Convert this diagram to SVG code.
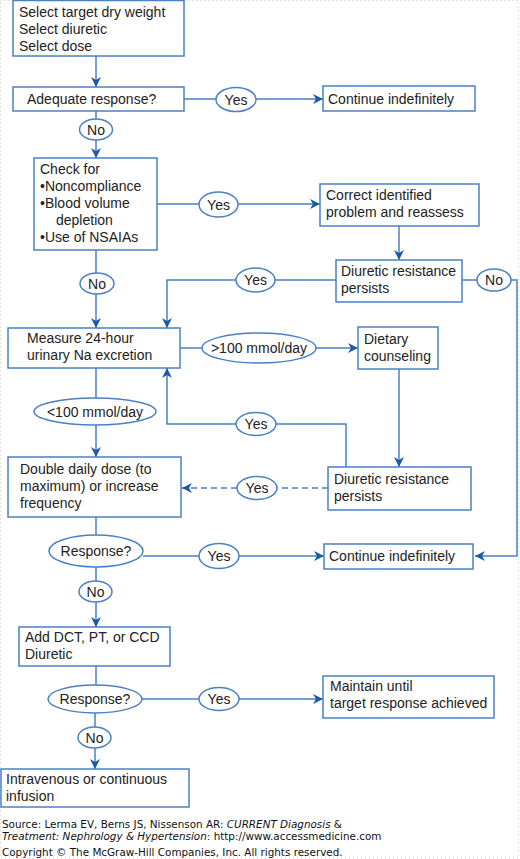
<svg xmlns="http://www.w3.org/2000/svg" width="520" height="859" viewBox="0 0 520 859">
<defs>
<style>
.box{fill:#fff;stroke:#4a80c4;stroke-width:1.5}
.ell{fill:#fff;stroke:#4a80c4;stroke-width:1.5}
.ln{fill:none;stroke:#4a80c4;stroke-width:1.5}
.dash{fill:none;stroke:#4a80c4;stroke-width:1.5;stroke-dasharray:6 4}
.t{font-family:"Liberation Sans",Arial,sans-serif;font-size:14px;fill:#222}
.c{text-anchor:middle}
.f{font-family:"DejaVu Sans",Verdana,sans-serif;font-size:10.4px;fill:#111}
</style>
<marker id="ah" viewBox="0 0 10 10" refX="10" refY="5" markerWidth="10" markerHeight="10" markerUnits="userSpaceOnUse" orient="auto">
<path d="M0,0 L10,5 L0,10 L3,5 Z" fill="#1a5aa8"/>
</marker>
</defs>
<rect x="0.5" y="0.5" width="518" height="857.5" fill="none" stroke="#c4ccb8" stroke-width="1" stroke-dasharray="1 3"/>

<g id="connectors">
<path class="ln" d="M96,56 V87" marker-end="url(#ah)"/>
<path class="ln" d="M184,99 H216 M256,99 H323" marker-end="url(#ah)"/>
<path class="ln" d="M96,111 V119 M96,140 V158" marker-end="url(#ah)"/>
<path class="ln" d="M157,204 H199 M238,204 H320" marker-end="url(#ah)"/>
<path class="ln" d="M399,226 V260" marker-end="url(#ah)"/>
<path class="ln" d="M336,280 H275 M236,280 H167 V328" marker-end="url(#ah)"/>
<path class="ln" d="M462,280 H477 M511,280 H517 V556 H475" marker-end="url(#ah)"/>
<path class="ln" d="M96,250 V273 M96,293 V328" marker-end="url(#ah)"/>
<path class="ln" d="M180,348 H202 M316,348 H358" marker-end="url(#ah)"/>
<path class="ln" d="M399,369 V467" marker-end="url(#ah)"/>
<path class="ln" d="M346,467 V424 H276 M236,424 H167 V368" marker-end="url(#ah)"/>
<path class="dash" d="M328,488 H277 M237,488 H182" marker-end="url(#ah)"/>
<path class="ln" d="M96,368 V398 M96,425 V457" marker-end="url(#ah)"/>
<path class="ln" d="M96,517 V535"/>
<path class="ln" d="M143,556 H199 M239,556 H324" marker-end="url(#ah)"/>
<path class="ln" d="M96,567 V581 M96,602 V627" marker-end="url(#ah)"/>
<path class="ln" d="M96,666 V685"/>
<path class="ln" d="M142,699 H199 M239,699 H323" marker-end="url(#ah)"/>
<path class="ln" d="M95,713 V727 M95,748 V769" marker-end="url(#ah)"/>
</g>

<g id="n1"><rect class="box" x="13" y="0.5" width="171" height="55.5"/>
<text class="t" x="19" y="17">Select target dry weight</text>
<text class="t" x="19" y="34">Select diuretic</text>
<text class="t" x="19" y="51">Select dose</text></g>

<g id="n2"><rect class="box" x="13" y="87" width="171" height="24"/>
<text class="t" x="27" y="104">Adequate response?</text></g>

<g id="e1"><ellipse class="ell" cx="236" cy="99.5" rx="20" ry="12"/><text class="t c" x="236" y="104.5">Yes</text></g>

<g id="n3"><rect class="box" x="323" y="86" width="152" height="25"/>
<text class="t" x="328" y="104">Continue indefinitely</text></g>

<g id="e2"><ellipse class="ell" cx="96" cy="129.5" rx="16.5" ry="10.5"/><text class="t c" x="96" y="134.5">No</text></g>

<g id="n4"><rect class="box" x="34" y="158" width="123" height="92"/>
<text class="t" x="40" y="174">Check for</text>
<text class="t" x="40" y="191">•Noncompliance</text>
<text class="t" x="40" y="208">•Blood volume</text>
<text class="t" x="56" y="225">depletion</text>
<text class="t" x="40" y="242">•Use of NSAIAs</text></g>

<g id="e3"><ellipse class="ell" cx="218.5" cy="204.5" rx="19.5" ry="12.5"/><text class="t c" x="218.5" y="209.5">Yes</text></g>

<g id="n5"><rect class="box" x="320" y="184" width="159" height="42"/>
<text class="t" x="326" y="200">Correct identified</text>
<text class="t" x="326" y="217">problem and reassess</text></g>

<g id="n6"><rect class="box" x="336" y="260" width="126" height="42"/>
<text class="t" x="341" y="276">Diuretic resistance</text>
<text class="t" x="341" y="293">persists</text></g>

<g id="e4"><ellipse class="ell" cx="255.5" cy="280" rx="19.5" ry="12"/><text class="t c" x="255.5" y="285">Yes</text></g>
<g id="e5"><ellipse class="ell" cx="494" cy="280" rx="17" ry="11"/><text class="t c" x="494" y="285">No</text></g>

<g id="e6"><ellipse class="ell" cx="97" cy="283.5" rx="17" ry="10.5"/><text class="t c" x="97" y="288.5">No</text></g>

<g id="n7"><rect class="box" x="8" y="328" width="172" height="40"/>
<text class="t" x="27" y="343">Measure 24-hour</text>
<text class="t" x="27" y="360">urinary Na excretion</text></g>

<g id="e7"><ellipse class="ell" cx="259" cy="348" rx="57" ry="15"/><text class="t c" x="259" y="353">&gt;100 mmol/day</text></g>

<g id="n8"><rect class="box" x="358" y="327" width="80" height="42"/>
<text class="t" x="364" y="344">Dietary</text>
<text class="t" x="364" y="361">counseling</text></g>

<g id="e8"><ellipse class="ell" cx="95" cy="411.5" rx="61" ry="13.5"/><text class="t c" x="95" y="416.5">&lt;100 mmol/day</text></g>

<g id="e9"><ellipse class="ell" cx="256" cy="424" rx="20" ry="11.5"/><text class="t c" x="256" y="429">Yes</text></g>

<g id="n9"><rect class="box" x="328" y="467" width="143" height="43"/>
<text class="t" x="334" y="484">Diuretic resistance</text>
<text class="t" x="334" y="501">persists</text></g>

<g id="e10"><ellipse class="ell" cx="257" cy="488" rx="20" ry="11.5"/><text class="t c" x="257" y="493">Yes</text></g>

<g id="n10"><rect class="box" x="8" y="457" width="173" height="60"/>
<text class="t" x="20" y="474">Double daily dose (to</text>
<text class="t" x="20" y="491">maximum) or increase</text>
<text class="t" x="20" y="508">frequency</text></g>

<g id="e11"><ellipse class="ell" cx="96" cy="551" rx="47" ry="16"/><text class="t c" x="96" y="556">Response?</text></g>
<g id="e12"><ellipse class="ell" cx="219" cy="556" rx="20" ry="12.5"/><text class="t c" x="219" y="561">Yes</text></g>

<g id="n11"><rect class="box" x="324" y="544" width="149" height="25"/>
<text class="t" x="329" y="561">Continue indefinitely</text></g>

<g id="e13"><ellipse class="ell" cx="95.5" cy="591.5" rx="16.5" ry="10.5"/><text class="t c" x="95.5" y="596.5">No</text></g>

<g id="n12"><rect class="box" x="19" y="627" width="151" height="39"/>
<text class="t" x="25" y="642">Add DCT, PT, or CCD</text>
<text class="t" x="25" y="659">Diuretic</text></g>

<g id="e14"><ellipse class="ell" cx="95" cy="699" rx="47" ry="14"/><text class="t c" x="95" y="704">Response?</text></g>
<g id="e15"><ellipse class="ell" cx="219" cy="699" rx="20" ry="11.5"/><text class="t c" x="219" y="704">Yes</text></g>

<g id="n13"><rect class="box" x="323" y="676" width="171" height="42"/>
<text class="t" x="330" y="691">Maintain until</text>
<text class="t" x="330" y="708">target response achieved</text></g>

<g id="e16"><ellipse class="ell" cx="94.5" cy="737.5" rx="16.5" ry="10.5"/><text class="t c" x="94.5" y="742.5">No</text></g>

<g id="n14"><rect class="box" x="1" y="769" width="188" height="38"/>
<text class="t" x="6" y="784">Intravenous or continuous</text>
<text class="t" x="6" y="801">infusion</text></g>

<g id="footer">
<text class="f" x="2" y="828">Source: Lerma EV, Berns JS, Nissenson AR: <tspan font-style="italic">CURRENT Diagnosis</tspan> &amp;</text>
<text class="f" x="2" y="840"><tspan font-style="italic">Treatment: Nephrology &amp; Hypertension</tspan>: http://www.accessmedicine.com</text>
<text class="f" x="2" y="856">Copyright © The McGraw-Hill Companies, Inc. All rights reserved.</text>
</g>
</svg>
